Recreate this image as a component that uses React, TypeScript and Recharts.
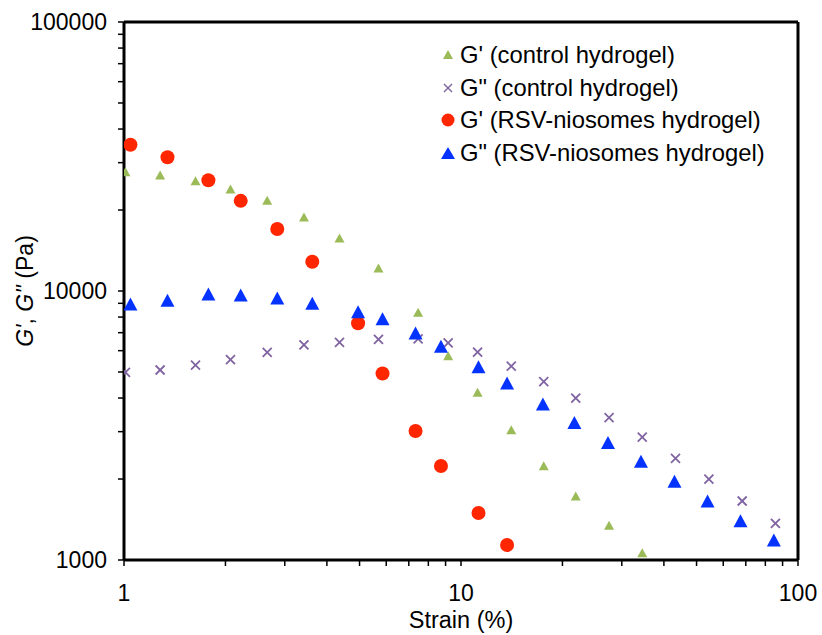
import React from "react";
import {
  ScatterChart,
  Scatter,
  XAxis,
  YAxis,
  ReferenceLine,
} from "recharts";

// strain (%) steps of each sample
const strainControl = [
  1.01, 1.28, 1.63, 2.07, 2.66, 3.42, 4.36, 5.69, 7.46, 9.16, 11.2, 14.1, 17.6,
  21.9, 27.5, 34.5, 43.3, 54.4, 68.3, 85.7,
];
const strainRsv = [
  1.045, 1.346, 1.78, 2.22, 2.85, 3.62, 4.95, 5.85, 7.33, 8.72, 11.27, 13.7,
  17.5, 21.7, 27.3, 34.2, 43.0, 53.9, 67.5, 84.8,
];

// moduli (Pa)
const gPrimeControl = [
  27770, 26980, 25700, 23930, 21740, 18830, 15740, 12175, 8335, 5740, 4200,
  3050, 2240, 1729, 1346, 1064,
];
const gDoublePrimeControl = [
  4987, 5085, 5307, 5556, 5917, 6300, 6447, 6607, 6641, 6419, 5922, 5253, 4600,
  3995, 3386, 2861, 2388, 2000, 1657, 1369,
];
const gPrimeRsv = [
  34990, 31410, 25790, 21630, 17000, 12850, 7590, 4935, 3017, 2236, 1495, 1137,
];
const gDoublePrimeRsv = [
  8948, 9235, 9745, 9662, 9419, 9002, 8375, 7888, 6982, 6229, 5231, 4550, 3802,
  3245, 2735, 2328, 1961, 1657, 1400, 1187,
];

const xTicks = [1, 2, 3, 4, 5, 6, 7, 8, 9, 10, 20, 30, 40, 50, 60, 70, 80, 90, 100];
const yTicks = [
  1000, 2000, 3000, 4000, 5000, 6000, 7000, 8000, 9000, 10000, 20000, 30000,
  40000, 50000, 60000, 70000, 80000, 90000, 100000,
];
const xLabels = [1, 10, 100];
const yLabels = [1000, 10000, 100000];

const FONT = "'Liberation Sans', Arial, sans-serif";
const GREEN = "#9BBB59";
const PURPLE = "#8064A2";
const RED = "#FF2600";
const BLUE = "#0433FF";

const toRows = (xs: number[], ys: number[]) =>
  ys.map((y, i) => ({ strain: xs[i], modulus: y }));

const triangle = (w: number, h: number, fill: string) => (props: any) => {
  const { cx, cy } = props;
  return (
    <polygon
      points={`${cx - w / 2},${cy + h / 2} ${cx + w / 2},${cy + h / 2} ${cx},${cy - h / 2}`}
      fill={fill}
    />
  );
};

const cross = (s: number, stroke: string) => (props: any) => {
  const { cx, cy } = props;
  return (
    <g stroke={stroke} strokeWidth={1.8}>
      <line x1={cx - s / 2} y1={cy - s / 2} x2={cx + s / 2} y2={cy + s / 2} />
      <line x1={cx - s / 2} y1={cy + s / 2} x2={cx + s / 2} y2={cy - s / 2} />
    </g>
  );
};

const dot = (r: number, fill: string) => (props: any) => {
  const { cx, cy } = props;
  return <circle cx={cx} cy={cy} r={r} fill={fill} />;
};

const XTick = (props: any) => {
  const { x, y, payload } = props;
  if (!xLabels.includes(payload.value)) return <g />;
  return (
    <text x={x} y={y} dy={33} textAnchor="middle" fontSize={23} fontFamily={FONT} fill="#000">
      {payload.value}
    </text>
  );
};

const YTick = (props: any) => {
  const { x, y, payload } = props;
  if (!yLabels.includes(payload.value)) return <g />;
  return (
    <text x={x} y={y} dx={-9} dy={8} textAnchor="end" fontSize={23} fontFamily={FONT} fill="#000">
      {payload.value}
    </text>
  );
};

const YLabel = (props: any) => {
  const vb = props.viewBox || { x: 0, y: 22, width: 124, height: 538 };
  const cx = vb.x + 25;
  const cy = vb.y + vb.height / 2;
  return (
    <text
      x={cx}
      y={cy}
      transform={`rotate(-90, ${cx}, ${cy})`}
      textAnchor="middle"
      dominantBaseline="central"
      fontSize={23}
      fontFamily={FONT}
      fill="#000"
    >
      <tspan fontStyle="italic">G'</tspan>
      <tspan>, </tspan>
      <tspan fontStyle="italic">G''</tspan>
      <tspan> (Pa)</tspan>
    </text>
  );
};

const XLabel = (props: any) => {
  const vb = props.viewBox || { x: 124, y: 560, width: 674, height: 75 };
  return (
    <text
      x={vb.x + vb.width / 2}
      y={vb.y + 68}
      textAnchor="middle"
      fontSize={23.5}
      fontFamily={FONT}
      fill="#000"
    >
      Strain (%)
    </text>
  );
};

const legendItems = [
  { name: "G' (control hydrogel)", marker: <polygon points="1,11 11,11 6,2" fill={GREEN} /> },
  {
    name: 'G" (control hydrogel)',
    marker: (
      <g stroke={PURPLE} strokeWidth={1.5}>
        <line x1={2} y1={3} x2={10} y2={11} />
        <line x1={2} y1={11} x2={10} y2={3} />
      </g>
    ),
  },
  { name: "G' (RSV-niosomes hydrogel)", marker: <circle cx={6} cy={7} r={6.5} fill={RED} /> },
  { name: 'G" (RSV-niosomes hydrogel)', marker: <polygon points="-1,13 13,13 6,1" fill={BLUE} /> },
];

export default function App() {
  return (
    <div style={{ position: "absolute", left: 0, top: 0, width: 822, height: 635, background: "#fff" }}>
      <ScatterChart width={822} height={635} margin={{ top: 22, right: 24, bottom: 0, left: 0 }}>
        <XAxis
          type="number"
          dataKey="strain"
          scale="log"
          domain={[1, 100]}
          ticks={xTicks}
          interval={0}
          allowDataOverflow
          height={75}
          axisLine={{ stroke: "#000", strokeWidth: 3 }}
          tickLine={{ stroke: "#000", strokeWidth: 1.5 }}
          tickSize={6}
          tick={XTick}
          label={{ content: XLabel }}
        />
        <YAxis
          type="number"
          dataKey="modulus"
          scale="log"
          domain={[1000, 100000]}
          ticks={yTicks}
          interval={0}
          allowDataOverflow
          width={124}
          axisLine={{ stroke: "#000", strokeWidth: 3 }}
          tickLine={{ stroke: "#000", strokeWidth: 1.5 }}
          tickSize={6}
          tick={YTick}
          label={{ content: YLabel }}
        />
        <ReferenceLine y={100000} stroke="#000" strokeWidth={3} />
        <ReferenceLine x={100} stroke="#000" strokeWidth={3} />
        <Scatter
          name="G' (control hydrogel)"
          data={toRows(strainControl, gPrimeControl)}
          shape={triangle(10, 9, GREEN)}
          isAnimationActive={false}
        />
        <Scatter
          name='G" (control hydrogel)'
          data={toRows(strainControl, gDoublePrimeControl)}
          shape={cross(9, PURPLE)}
          isAnimationActive={false}
        />
        <Scatter
          name="G' (RSV-niosomes hydrogel)"
          data={toRows(strainRsv, gPrimeRsv)}
          shape={dot(7, RED)}
          isAnimationActive={false}
        />
        <Scatter
          name='G" (RSV-niosomes hydrogel)'
          data={toRows(strainRsv, gDoublePrimeRsv)}
          shape={triangle(14, 13, BLUE)}
          isAnimationActive={false}
        />
      </ScatterChart>

      {/* legend */}
      <div style={{ position: "absolute", left: 442, top: 39, fontFamily: FONT, fontSize: 23.8, color: "#000" }}>
        {legendItems.map((item) => (
          <div key={item.name} style={{ display: "flex", alignItems: "center", height: 32.5, whiteSpace: "nowrap" }}>
            <svg width={14} height={14} style={{ overflow: "visible", marginRight: 4 }}>
              {item.marker}
            </svg>
            <span>{item.name}</span>
          </div>
        ))}
      </div>
    </div>
  );
}
